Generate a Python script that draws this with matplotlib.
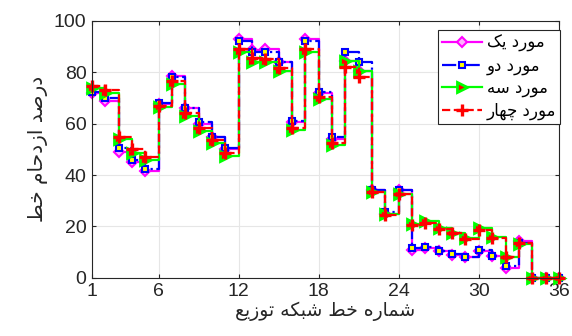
import numpy as np
import matplotlib
matplotlib.use("Agg")
import matplotlib.pyplot as plt

# line index 1..36
lines = np.arange(1, 37)

case1 = [72, 69, 49, 45, 41.5, 67.5, 78.5, 66, 60, 55, 50, 93, 88.5, 89, 84, 60.5, 93, 72,
         54, 84.5, 80.5, 34, 25, 34, 11, 11.5, 10.5, 9, 8, 10.5, 8.5, 4, 14.5, 0, 0, 0]
case2 = [72.5, 70, 50.5, 46, 42.5, 68, 78, 66, 60.5, 55, 50.5, 92, 88, 88, 84, 61, 92, 72.5,
         55, 88, 84, 34, 25.5, 34, 11.5, 12, 10.5, 9.3, 8.3, 10.8, 8.7, 4.7, 13.5, 0, 0, 0]
case3 = [74, 72, 54, 48.5, 46, 66.5, 75.5, 63, 57, 52.5, 47.5, 88, 84, 84, 80.5, 57.5, 88, 69.5,
         51.5, 84.5, 80.5, 33.5, 25, 32.5, 21, 22, 19.5, 17.5, 15.5, 19.3, 16, 8, 13, 0, 0, 0]
case4 = [74.5, 73, 55, 50, 47, 67, 76.5, 64, 58.5, 53.5, 48.5, 89, 85.5, 85, 81.5, 58.5, 89, 70.5,
         52.5, 82, 78, 33.5, 24.5, 32.5, 20.5, 21.5, 19, 17.5, 15, 18.7, 15.5, 8, 13.5, 0, 0, 0]

labels = ["مورد یک", "مورد دو", "مورد سه", "مورد چهار"]
xlabel = "شماره خط شبکه توزیع"
ylabel = "درصد ازدحام خط"
xticks = [1, 6, 12, 18, 24, 30, 36]
yticks = [0, 20, 40, 60, 80, 100]


# simple persian shaping (matplotlib has no bidi / joining)
FORMS = {  # iso, fin, ini, med
    "ا": ("\uFE8D", "\uFE8E", None, None),
    "ب": ("\uFE8F", "\uFE90", "\uFE91", "\uFE92"),
    "ت": ("\uFE95", "\uFE96", "\uFE97", "\uFE98"),
    "ح": ("\uFEA1", "\uFEA2", "\uFEA3", "\uFEA4"),
    "خ": ("\uFEA5", "\uFEA6", "\uFEA7", "\uFEA8"),
    "د": ("\uFEA9", "\uFEAA", None, None),
    "ر": ("\uFEAD", "\uFEAE", None, None),
    "ز": ("\uFEAF", "\uFEB0", None, None),
    "س": ("\uFEB1", "\uFEB2", "\uFEB3", "\uFEB4"),
    "ش": ("\uFEB5", "\uFEB6", "\uFEB7", "\uFEB8"),
    "ص": ("\uFEB9", "\uFEBA", "\uFEBB", "\uFEBC"),
    "ط": ("\uFEC1", "\uFEC2", "\uFEC3", "\uFEC4"),
    "ع": ("\uFEC9", "\uFECA", "\uFECB", "\uFECC"),
    "م": ("\uFEE1", "\uFEE2", "\uFEE3", "\uFEE4"),
    "ه": ("\uFEE9", "\uFEEA", "\uFEEB", "\uFEEC"),
    "و": ("\uFEED", "\uFEEE", None, None),
    "ک": ("\uFB8E", "\uFB8F", "\uFB90", "\uFB91"),
    "ی": ("\uFBFC", "\uFBFD", "\uFBFE", "\uFBFF"),
    "چ": ("\uFB7A", "\uFB7B", "\uFB7C", "\uFB7D"),
}


def shape(text):
    out = []
    for i, ch in enumerate(text):
        if ch not in FORMS:
            out.append(ch)
            continue
        prev = text[i - 1] if i > 0 else " "
        nxt = text[i + 1] if i + 1 < len(text) else " "
        join_prev = prev in FORMS and FORMS[prev][2] is not None
        join_next = nxt in FORMS and FORMS[ch][2] is not None
        iso, fin, ini, med = FORMS[ch]
        if join_prev and join_next:
            out.append(med)
        elif join_prev:
            out.append(fin)
        elif join_next:
            out.append(ini)
        else:
            out.append(iso)
    return "".join(out)[::-1]


txt = "#262626"
plt.rcParams["font.family"] = ["Liberation Sans", "DejaVu Sans"]

fig = plt.figure(figsize=(5.72, 3.36), dpi=100)
ax = fig.add_axes([0.161, 0.173, 0.816, 0.765])

ax.grid(True, color="#e6e6e6", linewidth=0.8)
ax.set_axisbelow(True)

ax.step(lines, case1, where="post", color="#ff00ff", lw=1.6, marker="D", ms=5.5,
        mfc="#ffb0ff", mec="#ff00ff", mew=1.5, label=shape(labels[0]), clip_on=False)
ax.step(lines, case2, where="post", color="#0000ff", lw=1.6, ls="-.", marker="s", ms=5,
        mfc="#ffff00", mec="#0000ff", mew=1.5, label=shape(labels[1]), clip_on=False)
ax.step(lines, case3, where="post", color="#00ff00", lw=1.6, marker=">", ms=7,
        mfc="#ff0000", mec="#00ff00", mew=2, label=shape(labels[2]), clip_on=False)
ax.step(lines, case4, where="post", color="#ff0000", lw=1.6, ls="--", marker="+", ms=8,
        mec="#ff0000", mew=2.4, label=shape(labels[3]), clip_on=False)

ax.set_xlim(1, 36)
ax.set_ylim(0, 100)
ax.set_xticks(xticks)
ax.set_yticks(yticks)
ax.tick_params(direction="in", length=3, top=True, right=True, labelsize=14,
               colors=txt, pad=4)
for s in ax.spines.values():
    s.set_color(txt)
    s.set_linewidth(0.8)

ax.set_xlabel(shape(xlabel), fontsize=13.5, color=txt, family=["DejaVu Sans"], labelpad=1)
ax.set_ylabel(shape(ylabel), fontsize=14.5, color=txt, family=["DejaVu Sans"], labelpad=4)

leg = ax.legend(loc="upper right", bbox_to_anchor=(1.003, 0.965),
                prop={"family": ["DejaVu Sans"], "size": 12},
                handlelength=2.4, handletextpad=0.3, borderpad=0.25,
                labelspacing=0.25, fancybox=False, framealpha=1, borderaxespad=0)
leg.get_frame().set_edgecolor(txt)
leg.get_frame().set_linewidth(0.8)

fig.savefig("out.png", dpi=100)
